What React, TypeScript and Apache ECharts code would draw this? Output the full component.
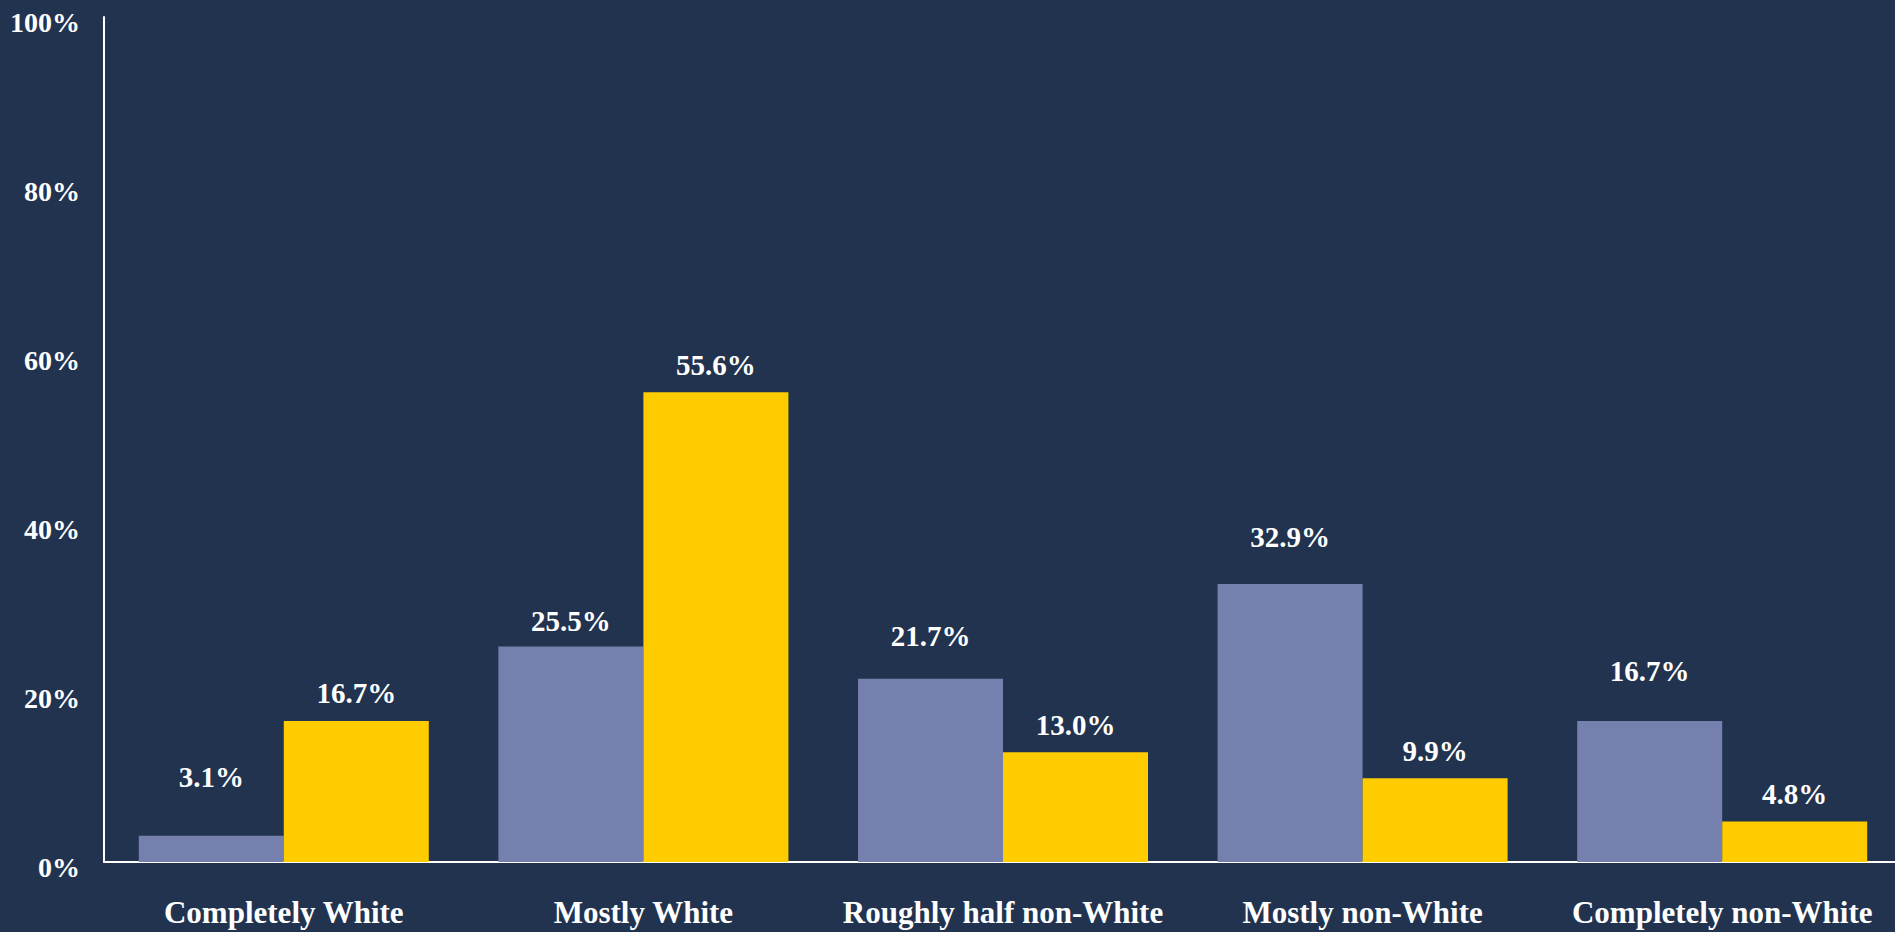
import React, { useEffect, useRef } from "react";
import * as echarts from "echarts";

const categories = [
  "Completely White",
  "Mostly White",
  "Roughly half non-White",
  "Mostly non-White",
  "Completely non-White",
];
const seriesA = [3.1, 25.5, 21.7, 32.9, 16.7];
const seriesB = [16.7, 55.6, 13.0, 9.9, 4.8];
const yTicks = [0, 20, 40, 60, 80, 100];

const FONT = "'Liberation Serif', 'Times New Roman', serif";
const BG = "#22334F";

export default function App() {
  const ref = useRef<HTMLDivElement>(null);
  useEffect(() => {
    if (!ref.current) return;
    const chart = echarts.init(ref.current, undefined, { renderer: "svg" });
    // label lift (px) for the first series, as placed in the source
    const liftA = [44, 11, 28, 32, 35];
    const labelStyle = {
      show: true,
      position: "top",
      color: "#FFFFFF",
      fontFamily: FONT,
      fontWeight: "bold",
      fontSize: 29,
      distance: 13,
      formatter: (p: any) => Number(p.value).toFixed(1) + "%",
    };
    chart.setOption({
      animation: false,
      backgroundColor: BG,
      grid: { left: 104, right: 0, top: 17, bottom: 70, containLabel: false },
      xAxis: {
        type: "category",
        data: categories,
        axisLine: { show: true, lineStyle: { color: "#FFFFFF", width: 2 } },
        axisTick: { show: false },
        axisLabel: {
          interval: 0,
          color: "#FFFFFF",
          fontFamily: FONT,
          fontWeight: "bold",
          fontSize: 31,
          margin: 35,
        },
      },
      yAxis: {
        type: "value",
        min: yTicks[0],
        max: yTicks[yTicks.length - 1],
        interval: 20,
        axisLine: { show: true, lineStyle: { color: "#FFFFFF", width: 2 } },
        axisTick: { show: false },
        splitLine: { show: false },
        axisLabel: {
          color: "#FFFFFF",
          fontFamily: FONT,
          fontWeight: "bold",
          fontSize: 28,
          margin: 24,
          verticalAlign: "top",
          lineHeight: 10,
          formatter: "{value}%",
        },
      },
      series: [
        {
          type: "bar",
          data: seriesA.map((v, i) => ({
            value: v,
            label: { distance: liftA[i] },
          })),
          barWidth: 145,
          barGap: "0%",
          itemStyle: { color: "#7580AE" },
          label: labelStyle,
        },
        {
          type: "bar",
          data: seriesB,
          barWidth: 145,
          barGap: "0%",
          itemStyle: { color: "#FFCC00" },
          label: labelStyle,
        },
      ],
    });
    return () => chart.dispose();
  }, []);
  return (
    <div
      style={{ position: "absolute", left: 0, top: 0, width: 1895, height: 932, overflow: "hidden", background: BG }}
    >
      <div ref={ref} style={{ width: 1902, height: 932 }} />
    </div>
  );
}
